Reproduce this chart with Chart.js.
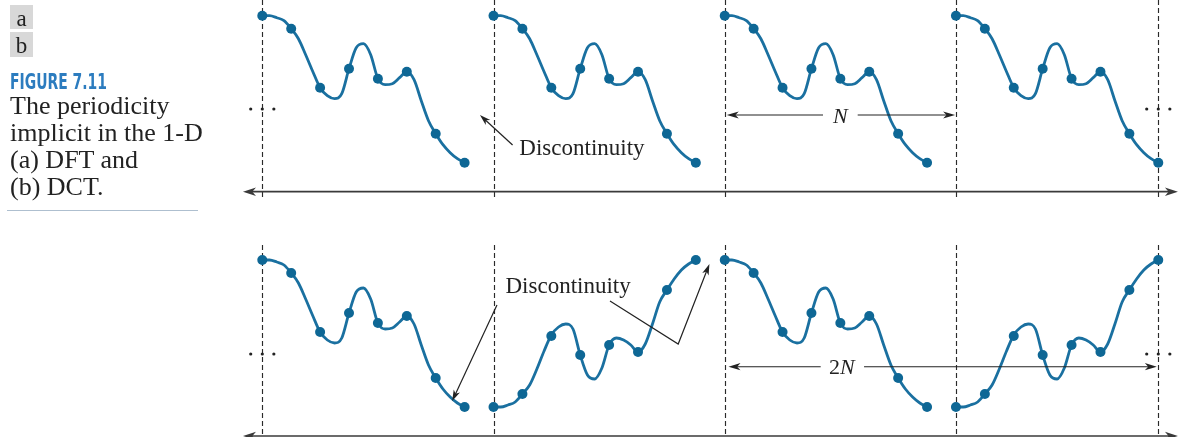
<!DOCTYPE html>
<html>
<head>
<meta charset="utf-8">
<script src="https://cdn.jsdelivr.net/npm/chart.js@4.4.0/dist/chart.umd.min.js"></script>
<style>
  html, body { margin: 0; padding: 0; background: #fff; }
  body { width: 1179px; height: 437px; position: relative; overflow: hidden; font-family: 'Liberation Serif', 'Times New Roman', serif; color: #222; }
  canvas { position: absolute; left: 0; }
  #topChart { top: 0; }
  #botChart { top: 240px; }
  .tag { position: absolute; left: 10px; width: 23px; height: 24px; background: #d8d8d8; font-size: 23px; line-height: 28px; text-align: center; overflow: visible; z-index: 2; }
  #figno { position: absolute; left: 10px; top: 71px; font-family: 'DejaVu Sans Condensed', 'DejaVu Sans', sans-serif; font-weight: bold; font-size: 22px; line-height: 22px; color: #2c7cbf; white-space: nowrap; transform-origin: 0 0; z-index: 2; }
  #cap { position: absolute; left: 10px; top: 92px; font-size: 26px; line-height: 27px; white-space: nowrap; z-index: 2; }
  #rule { position: absolute; left: 7px; top: 210px; width: 191px; height: 1px; background: #aebfcf; z-index: 2; }
</style>
</head>
<body>
<div class="tag" style="top:5px">a</div>
<div class="tag" style="top:32px;height:25px">b</div>
<div id="figno">FIGURE 7.11</div>
<div id="cap">The periodicity<br>implicit in the 1-D<br>(a) DFT and<br>(b) DCT.</div>
<div id="rule"></div>
<canvas id="topChart" width="1179" height="200"></canvas>
<canvas id="botChart" width="1179" height="197"></canvas>
<script>
/* ── Data ─────────────────────────────────────────────────── */
// sample index k = 0..7 inside one period of N = 8 samples
const periodStarts = [0, 8, 16, 24];
const curveStep    = 0.25;                 // curve read every quarter sample

// f(n): the sampled points, original orientation
const dotsA  = [176, 163, 104, 123, 113, 120, 58, 29];
// underlying continuous curve, original orientation
const curveA = [176, 176, 174, 171, 163, 153, 137, 120, 104, 96, 93, 98, 123, 144, 148,
                137, 113, 107, 108, 114, 120, 112, 91, 71, 58, 47, 39, 33, 29];

// the mirrored period of the DCT panel
const dotsB  = [29, 42, 100, 81, 91, 84, 146, 176];
const curveB = [29, 29, 31, 34, 42, 51, 67, 85, 101, 109, 112, 107, 81, 61, 57,
                68, 91, 98, 96, 91, 84, 92, 112, 134, 146, 157, 166, 172, 176];

// which shape each period uses
const topOrder    = ['A', 'A', 'A', 'A'];  // DFT: plain repetition
const bottomOrder = ['A', 'B', 'A', 'B'];  // DCT: even extension

const periodLines = [0, 8, 16, 24, 31];

/* ── Build datasets ────────────────────────────────────────── */
function buildCurve(order) {
  const pts = [];
  order.forEach((key, p) => {
    const vals = key === 'A' ? curveA : curveB;
    vals.forEach((v, k) => pts.push({ x: periodStarts[p] + k * curveStep, y: v }));
    pts.push({ x: periodStarts[p] + 7.5, y: null });   // break between periods
  });
  return pts;
}

function buildDots(order) {
  const pts = [];
  order.forEach((key, p) => {
    const vals = key === 'A' ? dotsA : dotsB;
    vals.forEach((v, k) => pts.push({ x: periodStarts[p] + k, y: v }));
  });
  return pts;
}

/* ── Drawing helpers ───────────────────────────────────────── */
const INK = '#222';

function head(ctx, fx, fy, tx, ty, len, half) {
  const a = Math.atan2(ty - fy, tx - fx);
  ctx.save();
  ctx.translate(tx, ty);
  ctx.rotate(a);
  ctx.beginPath();
  ctx.moveTo(0, 0);
  ctx.lineTo(-len, -half);
  ctx.lineTo(-len * 0.72, 0);
  ctx.lineTo(-len, half);
  ctx.closePath();
  ctx.fill();
  ctx.restore();
}

function line(ctx, pts) {
  ctx.beginPath();
  pts.forEach((p, i) => i ? ctx.lineTo(p[0], p[1]) : ctx.moveTo(p[0], p[1]));
  ctx.stroke();
}

const figureMarks = {
  id: 'figureMarks',
  beforeDatasetsDraw(chart, args, o) {
    const { ctx } = chart;
    const X = v => chart.scales.x.getPixelForValue(v);
    const Y = v => chart.scales.y.getPixelForValue(v);
    ctx.save();
    // dashed period boundaries
    ctx.strokeStyle = '#2a2a2a';
    ctx.lineWidth = 1.15;
    ctx.setLineDash([5, 3]);
    periodLines.forEach(s => line(ctx, [[Math.round(X(s)) + 0.5, Y(o.vTop)], [Math.round(X(s)) + 0.5, Y(o.vBot)]]));
    ctx.setLineDash([]);
    // horizontal axis with arrow at each end
    ctx.strokeStyle = '#3a3a3a';
    ctx.fillStyle = '#3a3a3a';
    ctx.lineWidth = 1.7;
    const y0 = Y(0), xl = X(o.axis[0]), xr = X(o.axis[1]);
    line(ctx, [[xl + 6, y0], [xr - 6, y0]]);
    head(ctx, xr, y0, xl, y0, 13, 4.2);
    head(ctx, xl, y0, xr, y0, 13, 4.2);
    // ellipsis dots
    ctx.fillStyle = INK;
    o.dots.forEach(s => { ctx.beginPath(); ctx.arc(X(s), Y(o.dotsY), 1.6, 0, Math.PI * 2); ctx.fill(); });
    ctx.restore();
  },
  afterDatasetsDraw(chart, args, o) {
    const { ctx } = chart;
    const X = v => chart.scales.x.getPixelForValue(v);
    const Y = v => chart.scales.y.getPixelForValue(v);
    ctx.save();
    ctx.strokeStyle = INK;
    ctx.fillStyle = INK;
    ctx.lineWidth = 1.1;
    // span arrow (N / 2N)
    const d = o.span, yd = Y(d.y);
    const a = X(d.from), b = X(d.to), g0 = X(d.gap[0]), g1 = X(d.gap[1]);
    line(ctx, [[a + 6, yd], [g0, yd]]);
    line(ctx, [[g1, yd], [b - 6, yd]]);
    head(ctx, b, yd, a, yd, 12, 3.6);
    head(ctx, a, yd, b, yd, 12, 3.6);
    ctx.textAlign = 'center';
    ctx.textBaseline = 'alphabetic';
    const cx = X(d.label);
    if (d.prefix) {
      ctx.font = '22px "Liberation Serif"';
      const pw = ctx.measureText(d.prefix).width;
      ctx.font = 'italic 22px "Liberation Serif"';
      const nw = ctx.measureText(d.text).width;
      const left = cx - (pw + nw) / 2;
      ctx.textAlign = 'left';
      ctx.font = '22px "Liberation Serif"';
      ctx.fillText(d.prefix, left, yd + 7.5);
      ctx.font = 'italic 22px "Liberation Serif"';
      ctx.fillText(d.text, left + pw, yd + 7.5);
    } else {
      ctx.font = 'italic 22px "Liberation Serif"';
      ctx.fillText(d.text, cx, yd + 7.5);
    }
    // note with arrows
    const n = o.note;
    ctx.textAlign = 'center';
    ctx.font = '23px "Liberation Serif"';
    ctx.fillText(n.text, X(n.at[0]), Y(n.at[1]));
    ctx.lineWidth = 1.2;
    n.arrows.forEach(path => {
      const px = path.map(p => [X(p[0]), Y(p[1])]);
      const t = px[px.length - 1], f = px[px.length - 2];
      const ang = Math.atan2(t[1] - f[1], t[0] - f[0]);
      const trimmed = px.slice(0, -1).concat([[t[0] - Math.cos(ang) * 7, t[1] - Math.sin(ang) * 7]]);
      line(ctx, trimmed);
      head(ctx, f[0], f[1], t[0], t[1], 11, 3.4);
    });
    ctx.restore();
  }
};

/* ── Chart factory ─────────────────────────────────────────── */
const CURVE_COLOR = '#1a70a0';
const DOT_COLOR   = '#0e6795';

function makeChart(id, order, yMin, yMax, marks) {
  return new Chart(document.getElementById(id), {
    type: 'line',
    plugins: [figureMarks],
    data: {
      datasets: [
        {
          data: buildDots(order),
          showLine: false,
          pointRadius: 5,
          pointBorderWidth: 0,
          pointBackgroundColor: DOT_COLOR,
        },
        {
          data: buildCurve(order),
          borderColor: CURVE_COLOR,
          borderWidth: 2.8,
          pointRadius: 0,
          cubicInterpolationMode: 'monotone',
          spanGaps: false,
          fill: false,
        }
      ]
    },
    options: {
      responsive: false,
      animation: false,
      events: [],
      layout: { padding: 0, autoPadding: false },
      plugins: { legend: { display: false }, tooltip: { enabled: false }, figureMarks: marks },
      scales: {
        x: { type: 'linear', min: -9.075, max: 31.717, display: false },
        y: { min: yMin, max: yMax, display: false }
      }
    }
  });
}

makeChart('topChart', topOrder, -8.3, 191.7, {
  vTop: 191.7, vBot: -5.3,
  axis: [-0.668, 31.68],
  dotsY: 82.7, dots: [-0.40, 0, 0.40, 30.6, 31, 31.4],
  span: { y: 76.7, from: 16.07, to: 23.97, label: 20.0, gap: [19.4, 20.6], text: 'N' },
  note: { text: 'Discontinuity', at: [11.06, 36.7], arrows: [[[8.66, 46.7], [7.53, 76.7]]] }
});

makeChart('botChart', bottomOrder, -1, 196, {
  vTop: 191, vBot: -1,
  axis: [-0.668, 31.68],
  dotsY: 82, dots: [-0.40, 0, 0.40, 30.6, 31, 31.4],
  span: { y: 69.3, from: 16.13, to: 30.95, label: 20.05, gap: [19.32, 20.82], text: 'N', prefix: '2' },
  note: { text: 'Discontinuity', at: [10.58, 143.3],
          arrows: [[[8.12, 131], [6.57, 35]], [[12.03, 135], [14.39, 92], [15.47, 172]]] }
});

/* ── Fit the condensed figure number to its printed width ──── */
const fig = document.getElementById('figno');
fig.style.transform = 'scaleX(' + (97 / fig.getBoundingClientRect().width) + ')';
</script>
</body>
</html>
